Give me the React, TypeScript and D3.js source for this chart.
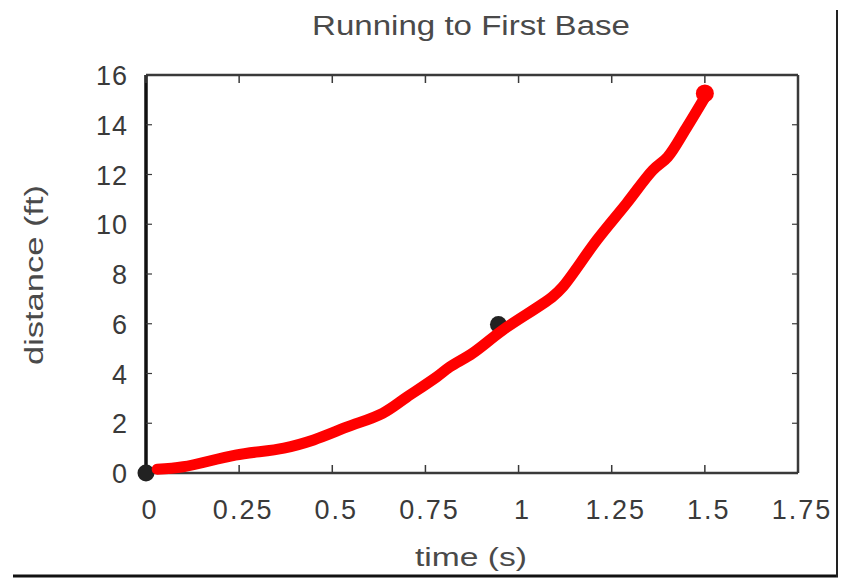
import * as d3 from 'd3';
import { FunctionComponent } from "react";

// time (s) vs distance (ft)
const times = [0.03, 0.10, 0.24, 0.37, 0.45, 0.54, 0.635, 0.70, 0.78, 0.815, 0.877, 0.957, 1.09, 1.118, 1.21, 1.29, 1.36, 1.40, 1.45, 1.50];
const distances = [0.15, 0.25, 0.72, 1.0, 1.33, 1.85, 2.4, 3.05, 3.86, 4.26, 4.82, 5.74, 7.07, 7.47, 9.36, 10.84, 12.17, 12.7, 13.86, 15.1];

const blackPoints = [{ t: 0, d: 0 }, { t: 0.946, d: 5.97 }];
const redPoint = { t: 1.5, d: 15.26 };

const xTicks = [0, 0.25, 0.5, 0.75, 1, 1.25, 1.5, 1.75];
const yTicks = [0, 2, 4, 6, 8, 10, 12, 14, 16];

const title = "Running to First Base";
const xLabel = "time (s)";
const yLabel = "distance (ft)";

const App: FunctionComponent = () => {
    const width = 841;
    const height = 581;
    const left = 146;
    const right = 798;
    const top = 75;
    const bottom = 473;
    const font = "'Liberation Sans', Arial, sans-serif";
    const ink = "#3a3a3a";

    const x = d3.scaleLinear([0, 1.75], [left, right]);
    const y = d3.scaleLinear([0, 16], [bottom, top]);

    const data = times.map((t, i) => ({ t, d: distances[i] }));
    const line = d3.line<{ t: number, d: number }>()
        .x(p => x(p.t))
        .y(p => y(p.d))
        .curve(d3.curveCatmullRom);

    return <svg width={width} height={height} viewBox={`0 0 ${width} ${height}`}
        style={{ position: 'absolute', left: 0, top: 0, background: '#fff' }}>
        <text x={471} y={35} textAnchor="middle" fontFamily={font} fontSize={27}
            fill="#4a4a4a" textLength={318} lengthAdjust="spacingAndGlyphs">{title}</text>

        {/* plot frame */}
        <line x1={left} x2={right} y1={top} y2={top} stroke={ink} strokeWidth={2.5} />
        <line x1={right} x2={right} y1={top} y2={bottom} stroke={ink} strokeWidth={2.5} />
        <line x1={left} x2={right} y1={bottom} y2={bottom} stroke={ink} strokeWidth={2.5} />
        <line x1={left} x2={left} y1={top} y2={bottom} stroke="#111" strokeWidth={3.5} />

        {xTicks.map(t => <g key={'x' + t}>
            <line x1={x(t)} x2={x(t)} y1={bottom} y2={bottom - 8} stroke={ink} strokeWidth={1.5} />
            <line x1={x(t)} x2={x(t)} y1={top} y2={top + 8} stroke={ink} strokeWidth={1.5} />
            <text x={x(t) + 4} y={519} textAnchor="middle" fontFamily={font} fontSize={27}
                fill={ink} letterSpacing={2}>{String(t)}</text>
        </g>)}

        {yTicks.map(v => <g key={'y' + v}>
            <line x1={left} x2={left + 6} y1={y(v)} y2={y(v)} stroke={ink} strokeWidth={1.2} />
            <line x1={right} x2={right - 6} y1={y(v)} y2={y(v)} stroke={ink} strokeWidth={1.2} />
            <text x={128} y={y(v) + 10} textAnchor="end" fontFamily={font} fontSize={27}
                fill={ink} letterSpacing={1}>{String(v)}</text>
        </g>)}

        <text x={471} y={566} textAnchor="middle" fontFamily={font} fontSize={26}
            fill="#4a4a4a" textLength={112} lengthAdjust="spacingAndGlyphs">{xLabel}</text>
        <text transform={`translate(43, 275) rotate(-90)`} textAnchor="middle"
            fontFamily={font} fontSize={26} fill="#4a4a4a"
            textLength={180} lengthAdjust="spacingAndGlyphs">{yLabel}</text>

        {blackPoints.map((p, i) => <circle key={i} cx={x(p.t)} cy={y(p.d)} r={8.5} fill="#222" />)}

        <path d={line(data) ?? ''} fill="none" stroke="#ff0000" strokeWidth={11}
            strokeLinecap="round" strokeLinejoin="round" />
        <circle cx={x(redPoint.t)} cy={y(redPoint.d)} r={9} fill="#ff0000" />

        {/* scan edges */}
        <line x1={13} x2={838} y1={576} y2={576} stroke="#111" strokeWidth={3} />
        <line x1={837} x2={837} y1={10} y2={577} stroke="#222" strokeWidth={2} />
    </svg>
}

export default App;
